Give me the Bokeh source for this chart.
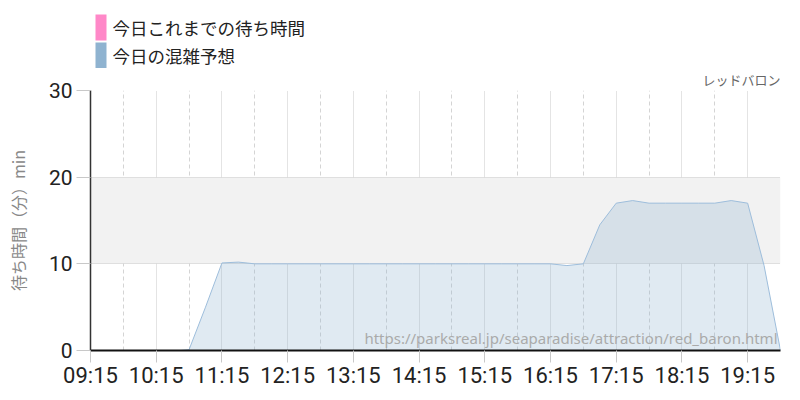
from bokeh.plotting import figure
from bokeh.layouts import column
from bokeh.models import (Range1d, FixedTicker, Label, BoxAnnotation, Title)
from bokeh.embed import file_html
from bokeh.resources import INLINE

# ---- data ----
forecast_times = ["09:15", "09:30", "09:45", "10:00", "10:15", "10:30", "10:45",
                  "11:00", "11:15", "11:30", "11:45", "12:00", "12:15", "12:30",
                  "12:45", "13:00", "13:15", "13:30", "13:45", "14:00", "14:15",
                  "14:30", "14:45", "15:00", "15:15", "15:30", "15:45", "16:00",
                  "16:15", "16:30", "16:45", "17:00", "17:15", "17:30", "17:45",
                  "18:00", "18:15", "18:30", "18:45", "19:00", "19:15", "19:30",
                  "19:45"]
forecast_waits = [0, 0, 0, 0, 0, -0.1, 0.1,
                  5.0, 10.1, 10.2, 10.0, 10.0, 10.0, 10.0,
                  10.0, 10.0, 10.0, 10.0, 10.0, 10.0, 10.0,
                  10.0, 10.0, 10.0, 10.0, 10.0, 10.0, 10.0,
                  10.0, 9.8, 10.0, 14.5, 17.0, 17.3, 17.0,
                  17.0, 17.0, 17.0, 17.0, 17.3, 17.0, 9.8,
                  0]
actual_times = []
actual_waits = []

tick_labels = ["09:15", "10:15", "11:15", "12:15", "13:15", "14:15",
               "15:15", "16:15", "17:15", "18:15", "19:15"]
minor_labels = ["09:45", "10:45", "11:45", "12:45", "13:45", "14:45",
                "15:45", "16:45", "17:45", "18:45", "19:45"]
y_ticks = [0, 10, 20, 30]
x_start, x_end = "09:15", "19:45"

legend_names = ["今日これまでの待ち時間", "今日の混雑予想"]
legend_colors = ["#ff88c8", "#8fb3d0"]
attraction = "レッドバロン"
url_text = "https://parksreal.jp/seaparadise/attraction/red_baron.html"
y_label = "待ち時間（分）min"


def mins(t):
    h, m = t.split(":")
    return int(h) * 60 + int(m)


fx = [mins(t) for t in forecast_times]
ax_ = [mins(t) for t in actual_times]

NUM_FONT = "Roboto"
JP_FONT = "Noto Sans CJK JP"
W = 792
TOP_H = 68
FRAME_L, FRAME_R = 90, 780   # pixel edges of the chart frame

# ---------- legend strip (pixel-like ranges, y downwards) ----------
# frames of plots in a column are aligned, so its frame spans FRAME_L..FRAME_R
leg = figure(width=W, height=TOP_H, output_backend="svg", toolbar_location=None,
             title=None, x_range=Range1d(FRAME_L, FRAME_R),
             y_range=Range1d(TOP_H, 0),
             x_axis_location=None, y_axis_location=None,
             min_border=0, background_fill_color="white",
             border_fill_color="white")
leg.outline_line_color = None
leg.grid.visible = False
for i, (name, col) in enumerate(zip(legend_names, legend_colors)):
    top = 14 + 28 * i
    leg.add_layout(BoxAnnotation(left=95, right=106, top=top, bottom=top + 26,
                                 fill_color=col, fill_alpha=1.0,
                                 line_alpha=0))
    leg.add_layout(Label(x=112, y=top + 13, text=name, text_baseline="middle",
                         text_align="left", text_font=JP_FONT,
                         text_font_size="17.5px", text_color="#222222"))

# ---------- main chart ----------
p = figure(width=W, height=392 - TOP_H, output_backend="svg",
           toolbar_location=None, title=None,
           x_range=Range1d(mins(x_start), mins(x_end)),
           y_range=Range1d(0, 30),
           min_border_left=FRAME_L, min_border_right=W - FRAME_R,
           min_border_top=90 - TOP_H, min_border_bottom=42,
           background_fill_color="white", border_fill_color="white")
p.outline_line_color = None

p.add_layout(Title(text=attraction, align="right",
                   text_font="DejaVu Sans, Noto Sans CJK JP",
                   text_font_size="13px", text_font_style="normal",
                   text_color="#666666", standoff=5, offset=0), "above")

# grids
p.xaxis.ticker = FixedTicker(ticks=[mins(t) for t in tick_labels],
                             minor_ticks=[mins(t) for t in minor_labels])
p.xaxis.major_label_overrides = {mins(t): t for t in tick_labels}
p.yaxis.ticker = FixedTicker(ticks=y_ticks)

p.xgrid.grid_line_color = "#c8c8c8"
p.xgrid.grid_line_dash = "1 1"
p.xgrid.minor_grid_line_color = "#d4d4d4"
p.xgrid.minor_grid_line_dash = "4 3"
p.ygrid.grid_line_color = "#c8c8c8"
p.ygrid.grid_line_dash = "1 1"
p.ygrid.band_fill_color = "#f2f2f2"
p.ygrid.band_fill_alpha = 1.0

# axes
for ax in (p.xaxis, p.yaxis):
    ax.major_tick_line_color = "#c8c8c8"
    ax.minor_tick_line_color = None
    ax.major_tick_in = 0
    ax.major_label_text_color = "#222222"
    ax.major_label_text_font = NUM_FONT
p.xaxis.axis_line_color = "#111111"
p.xaxis.axis_line_width = 2
p.yaxis.axis_line_color = "#333333"
p.yaxis.axis_line_width = 1.5
p.xaxis.major_tick_out = 12
p.yaxis.major_tick_out = 14
p.xaxis.major_label_text_font_size = "22px"
p.yaxis.major_label_text_font_size = "21px"
p.xaxis.major_label_standoff = 0
p.yaxis.major_label_standoff = 4
p.yaxis.axis_label = y_label
p.yaxis.axis_label_text_font = JP_FONT
p.yaxis.axis_label_text_font_size = "16px"
p.yaxis.axis_label_text_font_style = "normal"
p.yaxis.axis_label_text_color = "#888888"
p.yaxis.axis_label_standoff = 16

# series
p.varea(x=fx, y1=0, y2=forecast_waits, fill_color="#8fb3d0", fill_alpha=0.28)
p.line(x=fx, y=forecast_waits, line_color="#9dbddb", line_width=1)
if actual_times:
    p.line(x=ax_, y=actual_waits, line_color="#ff88c8", line_width=2)

p.add_layout(Label(x=mins(x_end), y=0, text=url_text, text_align="right",
                   text_baseline="bottom", y_offset=3, x_offset=-3,
                   text_font="Noto Sans", text_font_size="15px",
                   text_color="#aaaaaa"))

page = column(leg, p, spacing=0)
open("out.html", "w").write(file_html(page, INLINE))
